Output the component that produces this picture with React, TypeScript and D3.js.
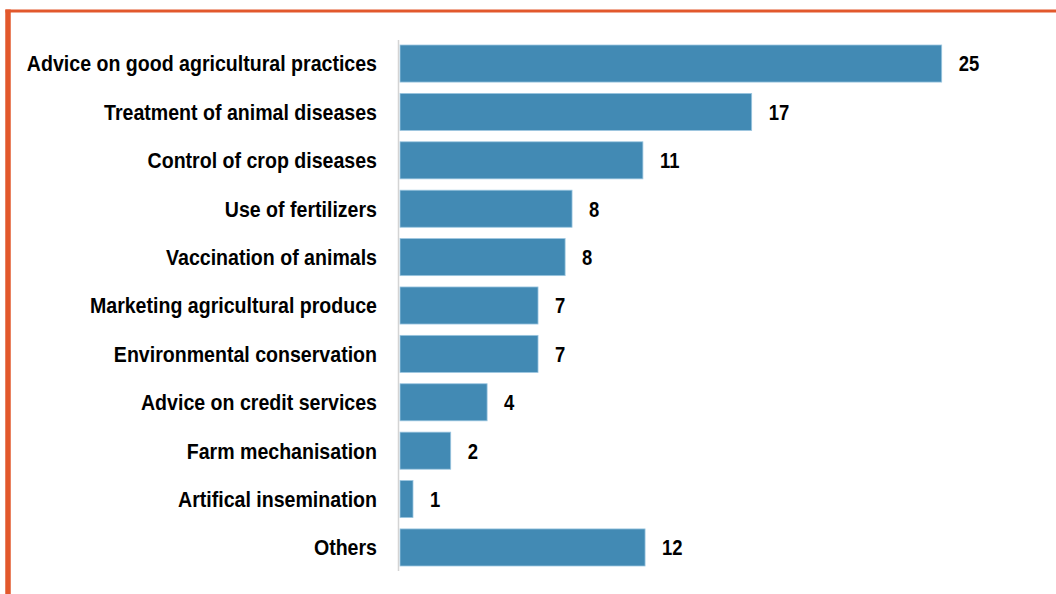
import * as d3 from 'd3';
import React, { useRef, useEffect } from 'react';

const categories = [
  "Advice on good agricultural practices",
  "Treatment of animal diseases",
  "Control of crop diseases",
  "Use of fertilizers",
  "Vaccination of animals",
  "Marketing agricultural produce",
  "Environmental conservation",
  "Advice on credit services",
  "Farm mechanisation",
  "Artifical insemination",
  "Others",
];

// bar lengths (the printed labels are rounded)
const values = [25, 16.23, 11.21, 7.94, 7.62, 6.37, 6.37, 4.02, 2.34, 0.6, 11.31];
const valueLabels = ["25", "17", "11", "8", "8", "7", "7", "4", "2", "1", "12"];

const FONT = "'Liberation Sans', Arial, sans-serif";

function BarChart(): any {
  const ref = useRef(null);
  const width = 1056;
  const height = 594;

  useEffect(() => {
    const svg = d3.select(ref.current);
    svg.selectAll("*").remove();

    const xScale = d3.scaleLinear().domain([0, 25]).range([400, 941.7]);
    const yScale = d3
      .scaleBand()
      .domain(categories)
      .range([40, 571])
      .paddingInner(0.234)
      .paddingOuter(0.1035);
    const midY = (c: string) => (yScale(c) as number) + yScale.bandwidth() / 2;

    // orange frame (left + top)
    svg.append("line")
      .attr("x1", 8).attr("x2", 8)
      .attr("y1", 9.5).attr("y2", height)
      .attr("stroke", "#E2582C").attr("stroke-width", 5.5);
    svg.append("line")
      .attr("x1", 5.5).attr("x2", width)
      .attr("y1", 11).attr("y2", 11)
      .attr("stroke", "#E2582C").attr("stroke-width", 3);

    const data = categories.map((c, i) => ({ c, v: values[i], label: valueLabels[i] }));

    svg.append("g")
      .selectAll("rect")
      .data(data)
      .enter()
      .append("rect")
      .attr("x", xScale(0))
      .attr("y", (d: any) => yScale(d.c) as number)
      .attr("width", (d: any) => xScale(d.v) - xScale(0))
      .attr("height", yScale.bandwidth())
      .attr("fill", "#428AB4")
      .attr("stroke", "#9CC6E0")
      .attr("stroke-width", 0.8);

    // axis line
    svg.append("line")
      .attr("x1", 398.5).attr("x2", 398.5)
      .attr("y1", 40).attr("y2", 571)
      .attr("stroke", "#d4d4d4").attr("stroke-width", 1.5);

    // narrow bold look: squeeze regular sans horizontally
    const squeeze = 0.89;

    svg.append("g")
      .selectAll("text")
      .data(data)
      .enter()
      .append("text")
      .attr("transform", (d: any) => "translate(377," + midY(d.c) + ") scale(" + squeeze + ",1)")
      .attr("dy", "0.36em")
      .attr("text-anchor", "end")
      .style("font-family", FONT)
      .style("font-weight", "bold")
      .style("font-size", "22px")
      .attr("fill", "#000")
      .text((d: any) => d.c);

    svg.append("g")
      .selectAll("text")
      .data(data)
      .enter()
      .append("text")
      .attr("transform", (d: any) => "translate(" + (xScale(d.v) + 17) + "," + midY(d.c) + ") scale(0.84,1)")
      .attr("dy", "0.36em")
      .style("font-family", FONT)
      .style("font-weight", "bold")
      .style("font-size", "22px")
      .attr("fill", "#000")
      .text((d: any) => d.label);
  }, []);

  return (
    <svg
      ref={ref}
      width={width}
      height={height}
      style={{ position: "fixed", top: 0, left: 0, background: "#fff" }}
    />
  );
}

export default function App(): any {
  return <BarChart />;
}
